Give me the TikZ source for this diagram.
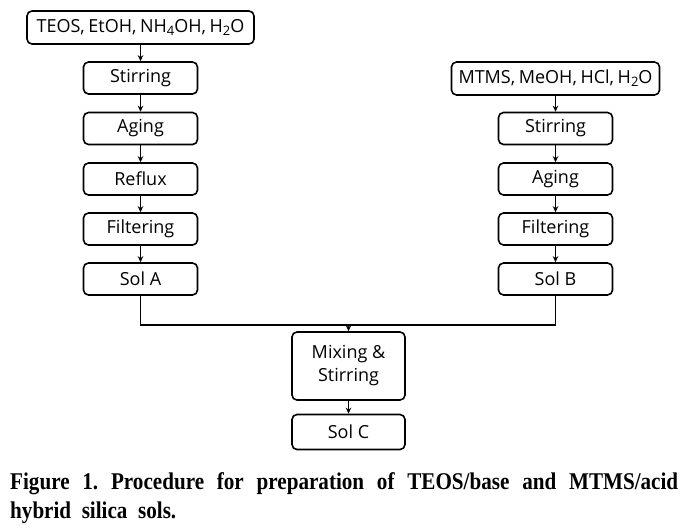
\documentclass[tikz,border=0pt]{standalone}
\usepackage{fontspec}
\setmainfont{Liberation Serif}
\newfontfamily\boxfont{Open Sans}
\newfontfamily\capfont[FakeStretch=0.88]{Liberation Serif}
\newcommand{\chsub}[1]{\raisebox{-0.3ex}{\fontsize{13}{13}\selectfont #1}}
\usetikzlibrary{arrows.meta}
\begin{document}
\begin{tikzpicture}[x=1pt,y=-1pt,
  stepbox/.style={draw,line width=1.6pt,rounded corners=5pt,minimum height=32pt,font=\boxfont\fontsize{18}{23}\selectfont,align=center,inner sep=0pt},
  conn/.style={line width=1.6pt},
  arr/.style={line width=1.6pt,-{Stealth[length=6pt,width=5.5pt]}},
  capstyle/.style={anchor=base west,inner sep=0pt,font=\capfont\bfseries\fontsize{24}{29}\selectfont}]
\useasboundingbox (0,0) rectangle (698,528);
% left column
\node[stepbox,minimum width=227pt,minimum height=33pt] (L0) at (140.5,27.5) {\spaceskip=0.2em TEOS, EtOH, NH\chsub{4}OH, H\chsub{2}O};
\node[stepbox,minimum width=114pt] (L1) at (140.5,78) {Stirring};
\node[stepbox,minimum width=114pt] (L2) at (140.5,128.5) {Aging};
\node[stepbox,minimum width=114pt] (L3) at (140.5,179) {Reflux};
\node[stepbox,minimum width=114pt] (L4) at (140.5,229) {Filtering};
\node[stepbox,minimum width=114pt] (L5) at (140.5,279) {Sol A};
% right column
\node[stepbox,minimum width=208pt,minimum height=33pt] (R0) at (555.5,78.5) {\spaceskip=0.2em MTMS, MeOH, HCl, H\chsub{2}O};
\node[stepbox,minimum width=114pt] (R1) at (555.5,128.5) {Stirring};
\node[stepbox,minimum width=114pt] (R2) at (555.5,179) {Aging};
\node[stepbox,minimum width=114pt] (R3) at (555.5,229) {Filtering};
\node[stepbox,minimum width=114pt] (R4) at (555.5,279) {Sol B};
% center
\node[stepbox,minimum width=113pt,minimum height=68pt] (M) at (348.5,366) {Mixing \&\\Stirring};
\node[stepbox,minimum width=113pt,minimum height=35pt] (C) at (348.5,432) {Sol C};
\coordinate (J) at (348.5,325);
\draw[arr] (L0) -- (L1);
\draw[arr] (L1) -- (L2);
\draw[arr] (L2) -- (L3);
\draw[arr] (L3) -- (L4);
\draw[arr] (L4) -- (L5);
\draw[arr] (R0) -- (R1);
\draw[arr] (R1) -- (R2);
\draw[arr] (R2) -- (R3);
\draw[arr] (R3) -- (R4);
\draw[conn] (L5.south) |- (J) -| (R4.south);
\draw[arr] (J) -- (M);
\draw[arr] (M) -- (C);
% caption
\node[capstyle] (cap1) at (10,489)
{\frenchspacing\makebox[668pt][s]{Figure 1. Procedure for preparation of TEOS/base and MTMS/acid}};
\node[capstyle] (cap2) at (10,518)
{hybrid\ \ silica\ \ sols.};
\end{tikzpicture}
\end{document}
